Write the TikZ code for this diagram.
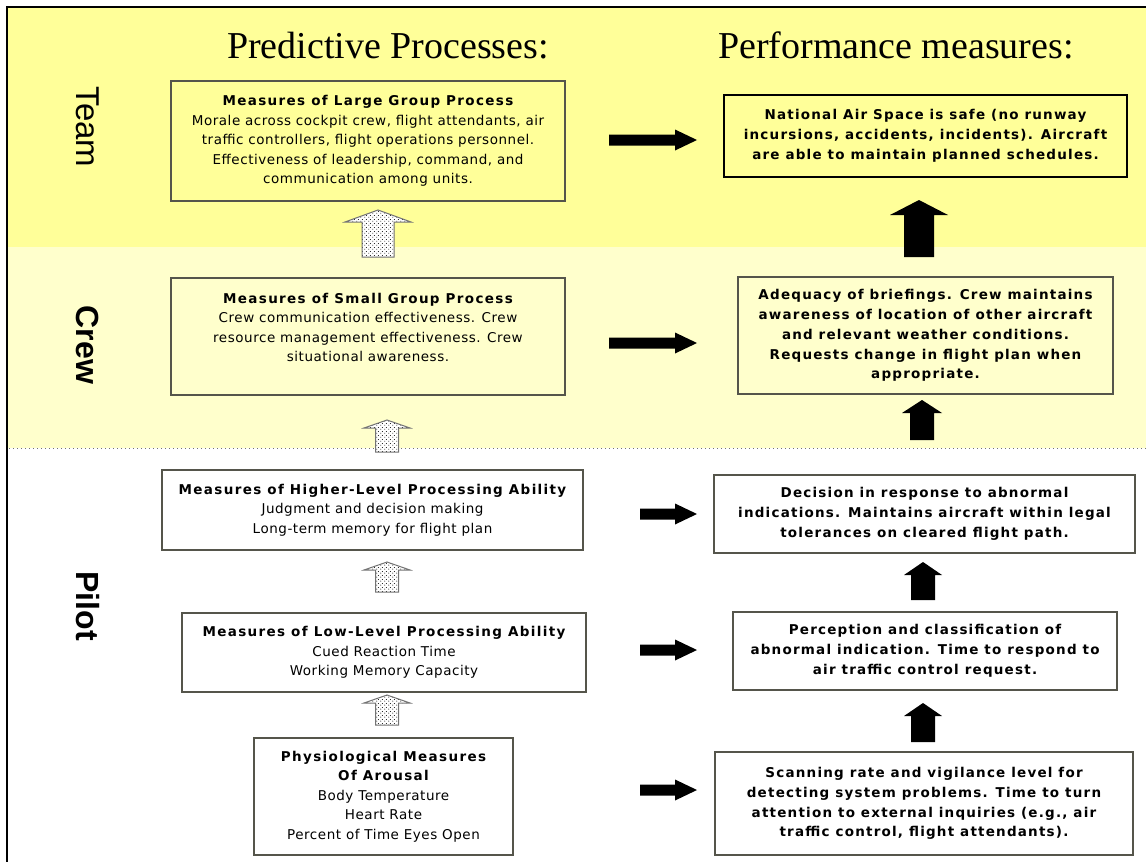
\documentclass[tikz,border=0pt]{standalone}
\usepackage{fontspec}
\setmainfont{Liberation Serif}
\newfontfamily\titlefont{Liberation Serif}
\newfontfamily\sidefont{Liberation Sans}
\newfontfamily\boxrm[LetterSpace=4]{DejaVu Sans}
\newfontfamily\boxbf[LetterSpace=9]{DejaVu Sans}
\newfontfamily\boxhd[LetterSpace=10]{DejaVu Sans}
\usetikzlibrary{patterns}

\definecolor{teamband}{RGB}{255,255,153}
\definecolor{crewband}{RGB}{255,255,204}
\definecolor{boxline}{RGB}{85,85,75}

% staggered dot fill for the hollow block arrows
\pgfdeclarepatternformonly{stipple}{\pgfqpoint{0pt}{0pt}}{\pgfqpoint{4pt}{4pt}}{\pgfqpoint{4pt}{4pt}}{%
  \pgfpathcircle{\pgfqpoint{1pt}{1pt}}{0.6pt}%
  \pgfpathcircle{\pgfqpoint{3pt}{3pt}}{0.6pt}%
  \pgfusepath{fill}}

\newcommand\hd[1]{{\boxhd\bfseries #1}}
% block arrow pointing right: y, tail x, head base x, tip x
\newcommand\rblock[4]{%
  \fill[black] (#2,#1-5.5) -- (#3,#1-5.5) -- (#3,#1-10.5) -- (#4,#1)
    -- (#3,#1+10.5) -- (#3,#1+5.5) -- (#2,#1+5.5) -- cycle;}
% block arrow pointing up: style, x, tip y, head base y, bottom y, head half width, body half width
\newcommand\ublock[7]{%
  \path[#1] (#2-#7,#5) -- (#2-#7,#4) -- (#2-#6,#4) -- (#2,#3)
    -- (#2+#6,#4) -- (#2+#7,#4) -- (#2+#7,#5) -- cycle;}

\tikzset{
  mbox/.style={draw=boxline, line width=1.4pt, rectangle, inner sep=0pt,
    align=center, font=\boxrm\fontsize{13.5}{19.5}\selectfont},
  pbox/.style={mbox, font=\boxbf\bfseries\fontsize{13.5}{19.8}\selectfont},
  solidup/.style={fill=black},
  dotup/.style={draw=black!55, line width=1pt, preaction={fill=white},
    pattern=stipple},
  sidelabel/.style={rotate=-90, font=\sidefont\fontsize{33}{36}\selectfont},
  heading/.style={anchor=base, font=\titlefont\fontsize{38}{40}\selectfont}
}

\begin{document}
\begin{tikzpicture}[x=1pt, y=-1pt]
\useasboundingbox (0,0) rectangle (1146,862);

% level bands and frame
\fill[teamband] (7,7) rectangle (1146,247);
\fill[crewband] (7,247) rectangle (1146,448);
\draw[black!55, line width=1pt, dash pattern=on 1pt off 3pt] (9,448) -- (1146,448);
\draw[line width=1.5pt] (7,862) -- (7,7) -- (1146,7);

% column headings
\node[heading] (predtitle) at (388,58) {Predictive Processes:};
\node[heading] (perftitle) at (896,58) {Performance measures:};

% level labels
\node[sidelabel] (team) at (88,127) {Team};
\node[sidelabel, font=\sidefont\bfseries\fontsize{32}{36}\selectfont] (crew) at (88,345) {Crew};
\node[sidelabel, font=\sidefont\bfseries\fontsize{32}{36}\selectfont] (pilot) at (88,606) {Pilot};

% team level
\node[mbox, fill=teamband, minimum width=394pt, minimum height=120pt] (lg) at (368,141) {%
  \hd{Measures of Large Group Process}\\
  Morale across cockpit crew, flight attendants, air\\
  traffic controllers, flight operations personnel.\\
  Effectiveness of leadership, command, and\\
  communication among units.};
\node[pbox, draw=black, line width=2pt, fill=teamband, minimum width=403pt, minimum height=82pt] (nas) at (925.5,136) {%
  National Air Space is safe (no runway\\
  incursions, accidents, incidents). Aircraft\\
  are able to maintain planned schedules.};

% crew level
\node[mbox, fill=crewband, minimum width=394pt, minimum height=117pt] (sg) at (368,336.5) {};
\node[align=center, inner sep=0pt, font=\boxrm\fontsize{13.5}{19.5}\selectfont] (sgtext) at (368,327.5) {%
  \hd{Measures of Small Group Process}\\
  Crew communication effectiveness. Crew\\
  resource management effectiveness. Crew\\
  situational awareness.};
\node[pbox, fill=crewband, minimum width=375pt, minimum height=117pt] (brief) at (925.5,335.5) {%
  Adequacy of briefings. Crew maintains\\
  awareness of location of other aircraft\\
  and relevant weather conditions.\\
  Requests change in flight plan when\\
  appropriate.};

% pilot level
\node[mbox, fill=white, minimum width=421pt, minimum height=80pt] (hl) at (372.5,510) {%
  \hd{Measures of Higher-Level Processing Ability}\\
  Judgment and decision making\\
  Long-term memory for flight plan};
\node[pbox, fill=white, minimum width=421pt, minimum height=78pt] (dec) at (924.5,514) {%
  Decision in response to abnormal\\
  indications. Maintains aircraft within legal\\
  tolerances on cleared flight path.};

\node[mbox, fill=white, minimum width=404pt, minimum height=79pt] (ll) at (384,652.5) {%
  \hd{Measures of Low-Level Processing Ability}\\
  Cued Reaction Time\\
  Working Memory Capacity};
\node[pbox, fill=white, minimum width=384pt, minimum height=78pt] (perc) at (925,651) {%
  Perception and classification of\\
  abnormal indication. Time to respond to\\
  air traffic control request.};

\node[mbox, fill=white, minimum width=259pt, minimum height=117pt] (phys) at (383.5,796.5) {%
  \hd{Physiological Measures}\\
  \hd{Of Arousal}\\
  Body Temperature\\
  Heart Rate\\
  Percent of Time Eyes Open};
\node[pbox, fill=white, minimum width=418pt, minimum height=103pt] (scan) at (924,803.5) {%
  Scanning rate and vigilance level for\\
  detecting system problems. Time to turn\\
  attention to external inquiries (e.g., air\\
  traffic control, flight attendants).};

% predictive process -> performance measure
\rblock{140}{609}{675}{697}
\rblock{343}{609}{675}{697}
\rblock{514}{640}{675}{697}
\rblock{650}{640}{675}{697}
\rblock{790}{640}{675}{697}

% upward links between predictive processes
\ublock{dotup}{378}{210}{222}{257}{33}{16}
\ublock{dotup}{387}{420}{428}{452}{23}{11.5}
\ublock{dotup}{387}{562}{570}{592}{23}{11.5}
\ublock{dotup}{387}{695}{703}{725}{23}{11.5}

% upward links between performance measures
\ublock{solidup}{919}{200}{215}{257}{29}{15}
\ublock{solidup}{922}{400}{413}{440}{20}{12}
\ublock{solidup}{923}{562}{575}{600}{19}{12}
\ublock{solidup}{923}{703}{716}{742}{19}{12}
\end{tikzpicture}
\end{document}
